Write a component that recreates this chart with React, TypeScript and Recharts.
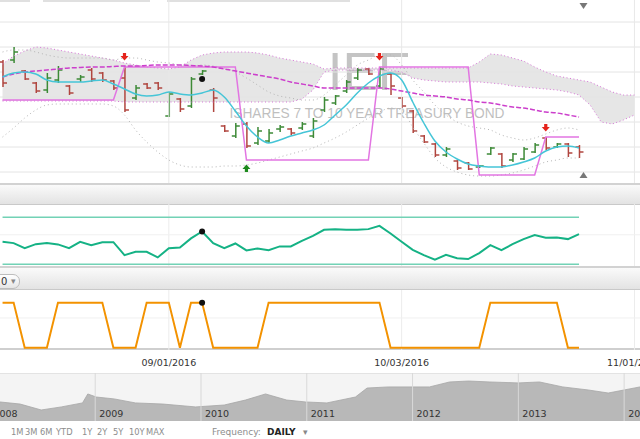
import React from 'react';
import {
  ComposedChart,
  AreaChart,
  Area,
  Bar,
  Line,
  XAxis,
  YAxis,
  CartesianGrid,
  ReferenceLine,
  ReferenceDot,
} from 'recharts';

// trading days shown (last five are empty future slots up to the 11/01 tick)
const dates = [
  '08/11/2016', '08/12/2016', '08/15/2016', '08/16/2016', '08/17/2016', '08/18/2016', '08/19/2016',
  '08/22/2016', '08/23/2016', '08/24/2016', '08/25/2016', '08/26/2016', '08/29/2016', '08/30/2016',
  '08/31/2016', '09/01/2016', '09/02/2016', '09/06/2016', '09/07/2016', '09/08/2016', '09/09/2016',
  '09/12/2016', '09/13/2016', '09/14/2016', '09/15/2016', '09/16/2016', '09/19/2016', '09/20/2016',
  '09/21/2016', '09/22/2016', '09/23/2016', '09/26/2016', '09/27/2016', '09/28/2016', '09/29/2016',
  '09/30/2016', '10/03/2016', '10/04/2016', '10/05/2016', '10/06/2016', '10/07/2016', '10/10/2016',
  '10/11/2016', '10/12/2016', '10/13/2016', '10/14/2016', '10/17/2016', '10/18/2016', '10/19/2016',
  '10/20/2016', '10/21/2016', '10/24/2016', '10/25/2016', '10/26/2016', '10/27/2016', '10/28/2016',
  '10/31/2016', '11/01/2016',
];
const axisTicks = ['09/01/2016', '10/03/2016', '11/01/2016'];

// IEF daily OHLC
const opens = [
  111.70, 111.74, 111.52, 111.28, 111.14, 111.34, 111.22, 111.36, 111.54, 111.48, 111.32, 111.38, 110.98,
  111.26, 111.28, 110.62, 110.96, 110.82, 111.46, 111.14, 110.42, 110.22, 110.46, 110.08, 110.12, 110.36,
  110.36, 110.38, 110.22, 110.74, 110.88, 111.12, 111.38, 111.56, 111.22, 111.46, 110.98, 110.72, 110.22,
  110.06, 109.84, 109.72, 109.68, 109.60, 109.86, 109.86, 109.74, 109.76, 109.90, 110.18, 110.00, 110.06,
  110.00,
];
const highs = [
  111.74, 112.00, 111.54, 111.30, 111.48, 111.62, 111.24, 111.44, 111.58, 111.50, 111.34, 111.60, 111.24,
  111.28, 111.30, 111.10, 110.98, 111.40, 111.54, 111.18, 110.44, 110.48, 110.50, 110.40, 110.36, 110.44,
  110.38, 110.50, 110.58, 111.00, 111.04, 111.34, 111.58, 111.58, 111.60, 111.48, 111.00, 110.74, 110.24,
  110.08, 110.00, 109.74, 109.70, 109.64, 110.00, 109.88, 109.88, 110.00, 110.08, 110.20, 110.08, 110.08,
  110.04,
];
const lows = [
  111.20, 111.68, 111.34, 111.08, 111.08, 111.28, 111.04, 111.30, 111.30, 111.30, 111.14, 110.70, 110.94,
  111.16, 111.14, 110.60, 110.70, 110.78, 111.44, 110.70, 110.30, 110.18, 109.98, 110.04, 110.08, 110.30,
  110.24, 110.34, 110.18, 110.70, 110.84, 111.08, 111.34, 111.44, 111.18, 111.04, 110.78, 110.28, 110.08,
  109.80, 109.80, 109.54, 109.54, 109.58, 109.84, 109.58, 109.70, 109.74, 109.88, 109.94, 109.98, 109.80,
  109.78,
];
const closes = [
  111.28, 111.90, 111.36, 111.12, 111.38, 111.54, 111.08, 111.40, 111.36, 111.34, 111.18, 110.74, 111.18,
  111.18, 111.18, 111.06, 110.76, 111.36, 111.52, 110.98, 110.32, 110.42, 110.02, 110.32, 110.28, 110.40,
  110.28, 110.46, 110.52, 110.94, 111.02, 111.30, 111.54, 111.46, 111.56, 111.22, 110.82, 110.32, 110.10,
  109.84, 109.96, 109.58, 109.56, 109.62, 109.98, 109.62, 109.86, 109.96, 110.04, 109.98, 110.06, 109.88,
  109.90,
];

// overlays
const fastMa = [
  111.40, 111.48, 111.50, 111.46, 111.34, 111.30, 111.30, 111.30, 111.32, 111.34, 111.26, 111.16, 111.06,
  111.02, 111.04, 111.10, 111.06, 111.04, 111.08, 111.14, 111.00, 110.72, 110.42, 110.20, 110.08, 110.14,
  110.22, 110.28, 110.34, 110.44, 110.64, 110.84, 111.08, 111.28, 111.42, 111.48, 111.34, 110.90, 110.48,
  110.12, 109.90, 109.76, 109.66, 109.62, 109.60, 109.60, 109.64, 109.70, 109.78, 109.92, 110.00, 110.02,
  109.98,
];
const slowMa = [
  111.40, 111.46, 111.50, 111.52, 111.54, 111.56, 111.58, 111.59, 111.60, 111.60, 111.61, 111.62, 111.62,
  111.63, 111.64, 111.64, 111.64, 111.63, 111.62, 111.60, 111.56, 111.52, 111.48, 111.44, 111.40, 111.36,
  111.30, 111.26, 111.22, 111.18, 111.18, 111.18, 111.18, 111.18, 111.18, 111.16, 111.12, 111.08, 111.04,
  111.02, 111.00, 110.96, 110.94, 110.90, 110.88, 110.84, 110.80, 110.78, 110.74, 110.70, 110.68, 110.64,
  110.60,
];
const channel = [
  110.94, 110.94, 110.94, 110.94, 110.94, 110.94, 110.94, 110.94, 110.94, 110.94, 110.94,
  111.60, 111.60, 111.60, 111.60, 111.60, 111.60, 111.60, 111.60, 111.60, 111.60, 111.60,
  109.74, 109.74, 109.74, 109.74, 109.74, 109.74, 109.74, 109.74, 109.74, 109.74, 109.74, 109.74,
  111.60, 111.60, 111.60, 111.60, 111.60, 111.60, 111.60, 111.60, 111.60,
  109.44, 109.44, 109.44, 109.44, 109.44, 109.44,
  110.20, 110.20, 110.20, 110.20,
];
const cloudTop = [
  111.66, 111.82, 111.92, 112.00, 111.98, 111.94, 111.90, 111.86, 111.82, 111.78, 111.74, 111.68, 111.64,
  111.60, 111.58, 111.56, 111.60, 111.74, 111.84, 111.88, 111.90, 111.90, 111.90, 111.88, 111.84, 111.78,
  111.74, 111.70, 111.66, 111.56, 111.58, 111.58, 111.58, 111.58, 111.58, 111.58, 111.58, 111.58, 111.58,
  111.58, 111.58, 111.58, 111.58, 111.70, 111.86, 111.84, 111.78, 111.72, 111.60, 111.50, 111.42, 111.38,
  111.34, 111.30, 111.20, 111.10, 111.04, 111.04,
];
const cloudBottom = [
  110.92, 110.92, 110.92, 110.92, 110.92, 110.92, 110.92, 110.92, 110.92, 110.92, 110.92, 110.90, 110.90,
  110.90, 110.90, 110.90, 110.90, 110.90, 110.90, 110.90, 110.90, 110.90, 110.90, 110.90, 110.90, 110.90,
  110.90, 110.96, 111.14, 111.50, 111.54, 111.54, 111.54, 111.54, 111.54, 111.54, 111.50, 111.38, 111.34,
  111.32, 111.30, 111.30, 111.30, 111.30, 111.28, 111.26, 111.22, 111.20, 111.18, 111.16, 111.14, 111.10,
  111.04, 110.84, 110.50, 110.46, 110.54, 110.64,
];
const bandUpper = [
  111.90, 111.94, 111.94, 111.90, 111.84, 111.80, 111.78, 111.78, 111.78, 111.78, 111.74, 111.78, 111.78,
  111.74, 111.70, 111.68, 111.64, 111.62, 111.64, 111.62, 111.58, 111.50, 111.38, 111.24, 111.10, 111.02,
  110.98, 110.94, 110.94, 111.04, 111.24, 111.44, 111.64, 111.74, 111.84, 111.84, 111.64, 111.34, 111.10,
  110.84, 110.64, 110.50, 110.42, 110.38, 110.34, 110.24, 110.18, 110.14, 110.18, 110.26, 110.34, 110.38,
  110.34,
];
const bandLower = [
  110.20, 110.38, 110.58, 110.74, 110.84, 110.86, 110.86, 110.86, 110.86, 110.86, 110.82, 110.64, 110.34,
  110.10, 109.90, 109.74, 109.64, 109.60, 109.60, 109.60, 109.62, 109.62, 109.64, 109.68, 109.74, 109.80,
  109.86, 109.92, 109.98, 110.08, 110.18, 110.30, 110.44, 110.58, 110.70, 110.78, 110.74, 110.40, 110.08,
  109.78, 109.60, 109.50, 109.44, 109.42, 109.42, 109.44, 109.48, 109.54, 109.62, 109.70, 109.74, 109.78,
  109.78,
];
const gridPrices = [109.5, 109.75, 110, 110.25, 110.5, 110.75, 111, 111.25, 111.5, 111.75, 112, 112.25, 112.5];

// signals on the price panel
const sellIdx = [11, 34, 49];
const sellLevel = [111.80, 111.80, 110.38];
const buyIdx = [22];
const buyLevel = [109.58];
const markIdx = 18;
const markLevel = 111.36;

// oscillator panel
const rsi = [
  49.0, 47.9, 43.6, 47.0, 47.9, 46.8, 43.6, 49.0, 46.2, 48.7, 48.7, 37.7, 40.5, 40.5, 35.7, 43.6, 44.2,
  51.9, 57.8, 47.9, 43.6, 47.6, 41.7, 43.4, 41.9, 45.1, 45.1, 49.8, 54.1, 59.2, 59.8, 59.2, 59.2, 59.8,
  62.6, 56.1, 49.0, 42.2, 37.7, 33.7, 37.9, 35.1, 34.3, 39.4, 46.2, 41.9, 47.0, 51.3, 54.7, 52.4, 52.7,
  51.3, 55.5,
];
const rsiBands = [70, 30];

// on/off indicator panel
const signal = [
  100, 100, 0, 0, 0, 100, 100, 100, 100, 100, 0, 0, 0, 100, 100, 100, 0, 100, 100, 0, 0, 0, 0, 0,
  100, 100, 100, 100, 100, 100, 100, 100, 100, 100, 100, 0, 0, 0, 0, 0, 0, 0, 0, 0,
  100, 100, 100, 100, 100, 100, 100, 0, 0,
];

// navigator (long history)
const navYears = [
  2008.10, 2008.29, 2008.49, 2008.68, 2008.88, 2008.93, 2009.01, 2009.18, 2009.38, 2009.64, 2009.95,
  2010.22, 2010.42, 2010.61, 2010.81, 2010.99, 2011.19, 2011.46, 2011.57, 2011.77, 2012.00, 2012.16,
  2012.35, 2012.53, 2012.73, 2013.00, 2013.20, 2013.42, 2013.66, 2013.85, 2014.15,
];
const navValues = [
  91.9, 90.6, 86.9, 88.8, 91.3, 96.9, 95.0, 93.8, 91.3, 90.6, 88.8, 90.0, 93.1, 96.9, 93.1, 91.9, 91.3,
  95.0, 100.6, 101.3, 101.3, 101.3, 104.4, 105.0, 104.4, 103.8, 104.4, 101.3, 99.4, 97.5, 101.3,
];
const navYearMarks = [2008, 2009, 2010, 2011, 2012, 2013, 2014];

const rows = dates.map((date, i) => ({
  date,
  open: opens[i],
  high: highs[i],
  low: lows[i],
  close: closes[i],
  range: highs[i] == null ? null : [lows[i], highs[i]],
  fast: fastMa[i],
  slow: slowMa[i],
  channel: channel[i],
  cloudTop: cloudTop[i],
  cloudBottom: cloudBottom[i],
  cloud: cloudTop[i] == null ? null : [cloudBottom[i], cloudTop[i]],
  upper: bandUpper[i],
  lower: bandLower[i],
  rsi: rsi[i],
  signal: signal[i],
}));
const navRows = navYears.map((t, i) => ({ t, v: navValues[i] }));

const GREEN = '#3d8a37';
const RED = '#b0463f';
const W = 643;
const LEFT = -3.5;
const FONT = 'DejaVu Sans, Verdana, sans-serif';
const noMargin = { top: 0, right: 0, bottom: 0, left: 0 };

const OhlcBar = (props: any) => {
  const { x, y, width, height, payload } = props;
  if (!payload || payload.high == null || !Number.isFinite(y)) return <g />;
  const k = height / (payload.high - payload.low || 1);
  const cx = x + width / 2;
  const yo = y + (payload.high - payload.open) * k;
  const yc = y + (payload.high - payload.close) * k;
  const color = payload.close >= payload.open ? GREEN : RED;
  return (
    <g stroke={color} strokeWidth={1.5}>
      <line x1={cx} x2={cx} y1={y} y2={y + height} />
      <line x1={cx - 4} x2={cx} y1={yo} y2={yo} />
      <line x1={cx} x2={cx + 4} y1={yc} y2={yc} />
    </g>
  );
};

const DownArrow = ({ cx, cy }: any) => (
  <path d={`M${cx - 1.6},${cy - 4} h3.2 v3 h2.4 l-4,4.5 l-4,-4.5 h2.4 z`} fill="#e5231b" />
);
const UpArrow = ({ cx, cy }: any) => (
  <path d={`M${cx - 1.6},${cy + 4} h3.2 v-3 h2.4 l-4,-4.5 l-4,4.5 h2.4 z`} fill="#1d8a1d" />
);

const DateTick = ({ x, y, payload }: any) => (
  <text x={x} y={y + 14} textAnchor="middle" fontSize={9.5} fill="#333" fontFamily={FONT}>
    {payload.value}
  </text>
);

const band = (top: number, h: number) => ({
  position: 'absolute' as const,
  left: 0,
  top,
  width: 640,
  height: h,
  background: 'linear-gradient(#fafafa, #e3e3e3)',
  borderTop: '2px solid #d2d2d2',
  borderBottom: '1px solid #c9c9c9',
  boxSizing: 'border-box' as const,
});

const buttons = [
  ['1M', 11], ['3M', 25], ['6M', 40], ['YTD', 56], ['1Y', 82], ['2Y', 97], ['5Y', 113], ['10Y', 129], ['MAX', 146],
] as const;

export default function App() {
  return (
    <div
      style={{
        position: 'absolute', left: 0, top: 0, width: 640, height: 439,
        overflow: 'hidden', background: '#fff', fontFamily: FONT,
      }}
    >
      {/* tabs cut off at the top edge */}
      <div style={{ position: 'absolute', left: 0, top: 0, width: 30, height: 2, background: '#e0e0e0' }} />
      <div style={{ position: 'absolute', left: 43, top: 0, width: 107, height: 2, background: '#e0e0e0' }} />
      <div style={{ position: 'absolute', left: 167, top: 0, width: 183, height: 2, background: '#e0e0e0' }} />

      {/* watermark */}
      <svg style={{ position: 'absolute', left: 0, top: 0 }} width={640} height={185}>
        <text x={369} y={90} textAnchor="middle" fontFamily="Liberation Sans, Arial, sans-serif" fontSize={53} fill="#c4c4c4">
          IEF
        </text>
        <text
          x={367} y={118} textAnchor="middle" fontFamily="Liberation Sans, Arial, sans-serif" fontSize={14}
          fill="#bfbfbf" textLength={275} lengthAdjust="spacingAndGlyphs"
        >
          ISHARES 7 TO 10 YEAR TREASURY BOND
        </text>
      </svg>

      {/* price panel */}
      <div style={{ position: 'absolute', left: LEFT, top: -3 }}>
        <ComposedChart width={W} height={188} data={rows} margin={noMargin} barSize={8}>
          <CartesianGrid vertical={false} stroke="#e4e4e4" horizontalValues={gridPrices} />
          <XAxis dataKey="date" hide />
          <YAxis hide type="number" domain={[109.24, 113]} ticks={gridPrices} allowDataOverflow />
          {axisTicks.map((d) => (
            <ReferenceLine key={d} x={d} stroke="#e8e8e8" ifOverflow="visible" />
          ))}
          <Area dataKey="cloud" type="linear" fill="#e3e3e3" fillOpacity={0.9} stroke="none" isAnimationActive={false} />
          <Line dataKey="cloudTop" type="linear" stroke="#d673d6" strokeWidth={1} strokeDasharray="1 2.5" dot={false} isAnimationActive={false} />
          <Line dataKey="cloudBottom" type="linear" stroke="#d673d6" strokeWidth={1} strokeDasharray="1 2.5" dot={false} isAnimationActive={false} />
          <Line dataKey="upper" type="monotone" stroke="#b5b5b5" strokeWidth={1} strokeDasharray="1 3" dot={false} isAnimationActive={false} />
          <Line dataKey="lower" type="monotone" stroke="#b5b5b5" strokeWidth={1} strokeDasharray="1 3" dot={false} isAnimationActive={false} />
          <Line dataKey="channel" type="linear" stroke="#e275e2" strokeWidth={1.5} dot={false} isAnimationActive={false} />
          <Line dataKey="slow" type="monotone" stroke="#cc3fcc" strokeWidth={1.5} strokeDasharray="5 2" dot={false} isAnimationActive={false} />
          <Bar dataKey="range" shape={OhlcBar} isAnimationActive={false} />
          <Line dataKey="fast" type="monotone" stroke="#45c5d7" strokeWidth={1.5} dot={false} isAnimationActive={false} />
          {sellIdx.map((i, k) => (
            <ReferenceDot key={`s${i}`} x={dates[i]} y={sellLevel[k]} shape={DownArrow} ifOverflow="visible" />
          ))}
          {buyIdx.map((i, k) => (
            <ReferenceDot key={`b${i}`} x={dates[i]} y={buyLevel[k]} shape={UpArrow} ifOverflow="visible" />
          ))}
          <ReferenceDot x={dates[markIdx]} y={markLevel} r={3} fill="#111" stroke="none" />
        </ComposedChart>
      </div>

      {/* scroll arrows */}
      <svg style={{ position: 'absolute', left: 0, top: 0 }} width={640} height={185}>
        <polygon points="579.5,3 587.5,3 583.5,9" fill="#777" />
        <polygon points="579.5,178 587.5,178 583.5,172" fill="#777" />
      </svg>

      <div style={band(183, 22)} />

      {/* oscillator panel */}
      <div style={{ position: 'absolute', left: LEFT, top: 204 }}>
        <ComposedChart width={W} height={66} data={rows} margin={noMargin}>
          <XAxis dataKey="date" hide scale="band" />
          <YAxis hide type="number" domain={[25, 81.2]} allowDataOverflow />
          {axisTicks.map((d) => (
            <ReferenceLine key={d} x={d} stroke="#ececec" ifOverflow="visible" />
          ))}
          <ReferenceLine y={55} stroke="#f0f0f0" />
          {rsiBands.map((v) => (
            <ReferenceLine
              key={v}
              segment={[{ x: dates[0], y: v }, { x: dates[52], y: v }]}
              stroke="#72d2b5"
              strokeWidth={1.5}
            />
          ))}
          <Line dataKey="rsi" type="linear" stroke="#15b285" strokeWidth={2} dot={false} isAnimationActive={false} />
          <ReferenceDot x={dates[markIdx]} y={rsi[markIdx]} r={3} fill="#111" stroke="none" />
        </ComposedChart>
      </div>

      <div style={band(266, 24)} />
      <div
        style={{
          position: 'absolute', left: -12, top: 274, width: 32, height: 15, boxSizing: 'border-box',
          border: '1px solid #bdbdbd', borderRadius: 7, background: 'linear-gradient(#ffffff, #e6e6e6)',
          fontSize: 10, lineHeight: '13px', color: '#333',
        }}
      >
        <span style={{ position: 'absolute', left: 12 }}>0</span>
        <span style={{ position: 'absolute', left: 22, fontSize: 9, color: '#888' }}>▾</span>
      </div>

      {/* on/off panel with date axis */}
      <div style={{ position: 'absolute', left: 0, top: 348, width: 640, height: 2, background: '#cfcfcf' }} />
      <div style={{ position: 'absolute', left: LEFT, top: 290 }}>
        <ComposedChart width={W} height={84} data={rows} margin={noMargin}>
          <XAxis
            dataKey="date" scale="band" ticks={axisTicks} interval={0} axisLine={false} tickLine={false}
            tickSize={0} height={24} tick={DateTick}
          />
          <YAxis hide type="number" domain={[-5, 128]} allowDataOverflow />
          {axisTicks.map((d) => (
            <ReferenceLine key={d} x={d} stroke="#ececec" ifOverflow="visible" />
          ))}
          <ReferenceLine y={66} stroke="#f0f0f0" />
          <Line dataKey="signal" type="linear" stroke="#f39200" strokeWidth={2} dot={false} isAnimationActive={false} />
          <ReferenceDot x={dates[markIdx]} y={signal[markIdx]} r={3} fill="#111" stroke="none" />
        </ComposedChart>
      </div>

      {/* navigator */}
      <div
        style={{
          position: 'absolute', left: 0, top: 373, width: 640, height: 48,
          background: '#f4f4f4', borderTop: '1px solid #e3e3e3', boxSizing: 'border-box',
        }}
      />
      <div style={{ position: 'absolute', left: 0, top: 373 }}>
        <AreaChart width={640} height={48} data={navRows} margin={noMargin}>
          <XAxis type="number" dataKey="t" domain={[2008.1, 2014.15]} hide allowDataOverflow />
          <YAxis hide type="number" domain={[80, 110]} allowDataOverflow />
          <Area dataKey="v" type="linear" stroke="#a6a6a6" strokeWidth={0.8} fill="#b8b8b8" fillOpacity={1} isAnimationActive={false} />
          {navYearMarks.map((yr) => (
            <ReferenceLine
              key={yr}
              x={yr}
              stroke="#d9d9d9"
              ifOverflow="visible"
              label={{ value: String(yr), position: 'insideBottomLeft', fill: '#333', fontSize: 9.5, offset: 4, fontFamily: FONT }}
            />
          ))}
        </AreaChart>
      </div>

      {/* range buttons */}
      {buttons.map(([t, x]) => (
        <span key={t} style={{ position: 'absolute', left: x, top: 426, fontSize: 8.3, color: '#8d8d8d', lineHeight: '12px', whiteSpace: 'nowrap' }}>
          {t}
        </span>
      ))}
      <span style={{ position: 'absolute', left: 212, top: 426, fontSize: 9, color: '#8d8d8d', lineHeight: '12px' }}>
        Frequency:
      </span>
      <span style={{ position: 'absolute', left: 267, top: 426, fontSize: 9, color: '#222', fontWeight: 'bold', lineHeight: '12px' }}>
        DAILY
      </span>
      <span style={{ position: 'absolute', left: 303, top: 426, fontSize: 9, color: '#888', lineHeight: '12px' }}>▾</span>
    </div>
  );
}
